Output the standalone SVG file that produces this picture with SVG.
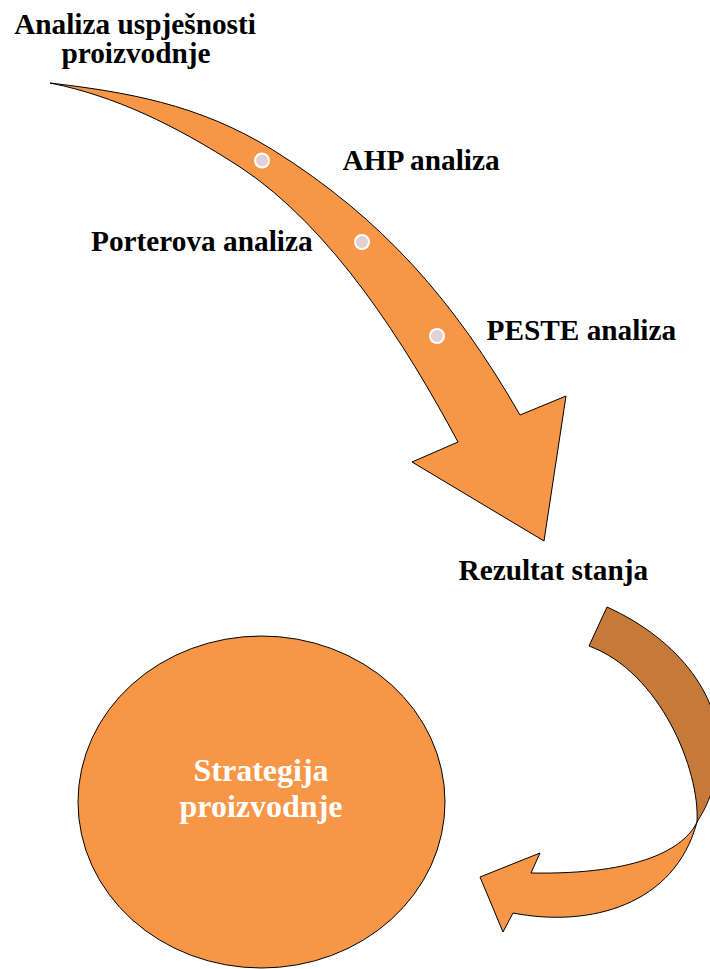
<svg xmlns="http://www.w3.org/2000/svg" width="710" height="969" viewBox="0 0 710 969">
<style>
.lbl{font-family:"Liberation Serif","Times New Roman",serif;font-weight:bold;font-size:29.3px;fill:#000}
.ctr{font-family:"Liberation Serif","Times New Roman",serif;font-weight:bold;font-size:32px;fill:#fff}
.ar{fill:#F79646;stroke:#000;stroke-width:1}
.dk{fill:#C67A39;stroke:#000;stroke-width:1}
.dot{fill:#E3D0D4;stroke:#fff;stroke-width:2}
</style>
<rect width="710" height="969" fill="#fff"/>
<g id="connectors">
<path class="ar" d="M50,83 C125,92 198,103.5 273,150 C383.5,219 455,302 520,415 L566,396 L544,541 L412,462 L458,442 C406,345 332,227.5 240,167 C175,125 115,96 50,83 Z"/>
<circle class="dot" cx="262" cy="160.5" r="7"/>
<circle class="dot" cx="362" cy="242" r="7"/>
<circle class="dot" cx="437" cy="336" r="7"/>
<path class="dk" d="M607,607 C680,640 725,700 718,760 C715,790 706,808 697,822 C700,770 660,672 589,646 Z"/>
<path class="ar" d="M697,822 C685,848 640,875 531,873 L540,853 L480,877 L503,932 L513,913 C590,928 675,905 697,822 Z"/>
</g>
<g id="node-analiza">
<text class="lbl" x="135" y="34" text-anchor="middle">Analiza uspješnosti</text>
<text class="lbl" x="136" y="63" text-anchor="middle">proizvodnje</text>
</g>
<g id="node-ahp"><text class="lbl" x="342.5" y="170">AHP analiza</text></g>
<g id="node-porter"><text class="lbl" x="91" y="250.5">Porterova analiza</text></g>
<g id="node-peste"><text class="lbl" x="486.5" y="339.5">PESTE analiza</text></g>
<g id="node-rezultat"><text class="lbl" x="458.5" y="580">Rezultat stanja</text></g>
<g id="node-strategija">
<ellipse cx="261.5" cy="802" rx="183.5" ry="166" fill="#F79646" stroke="#000" stroke-width="1"/>
<text class="ctr" x="261" y="781" text-anchor="middle">Strategija</text>
<text class="ctr" x="261" y="817" text-anchor="middle">proizvodnje</text>
</g>
</svg>
